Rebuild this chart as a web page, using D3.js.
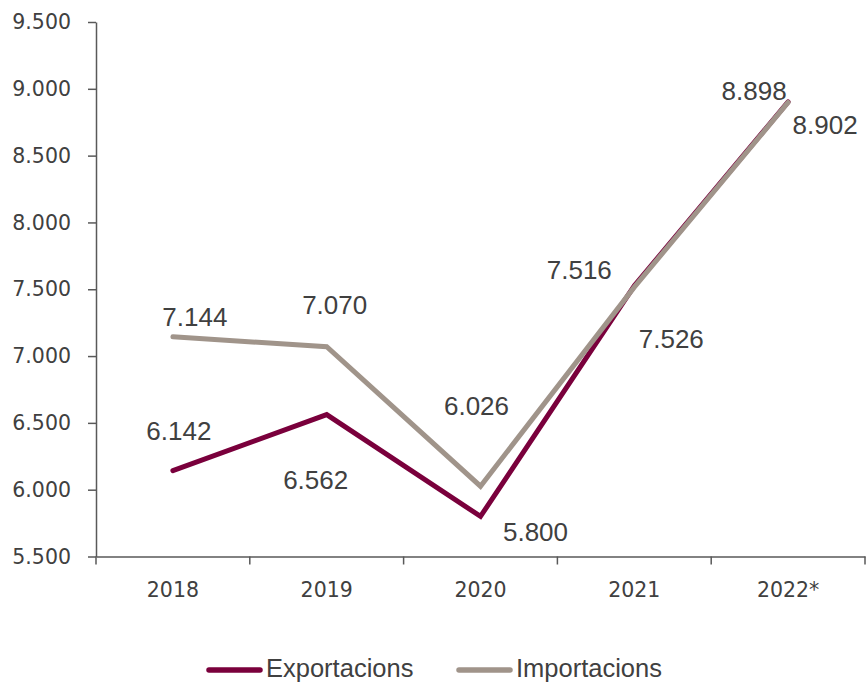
<!DOCTYPE html>
<html>
<head>
<meta charset="utf-8">
<script src="https://cdn.jsdelivr.net/npm/d3@7"></script>
<style>
  html, body { margin: 0; padding: 0; background: #fff; }
  svg { display: block; }
</style>
</head>
<body>
<svg id="chart" width="866" height="684"></svg>
<script>
const categories = ["2018", "2019", "2020", "2021", "2022*"];
const exportacions = [6142, 6562, 5800, 7526, 8902];
const importacions = [7144, 7070, 6026, 7516, 8898];
const yTicks = [5500, 6000, 6500, 7000, 7500, 8000, 8500, 9000, 9500];
const seriesNames = ["Exportacions", "Importacions"];
const seriesColors = ["#7a003c", "#a0948a"];
// label offsets (dx, dy) relative to the point, per series
const exportLabelOffsets = [[6, -40], [-11, 65], [55, 16], [37, 53], [37, 23]];
const importLabelOffsets = [[22, -20], [8, -42], [-4, -80], [-55, -17], [-34, -11]];

const svg = d3.select("#chart");

const x = d3.scaleBand().domain(categories).range([96, 865]).padding(0);
const y = d3.scaleLinear().domain([5500, 9500]).range([556.5, 22]);

const fmt = v => d3.format(",.0f")(v).replace(/,/g, ".");
const textColor = "#404040";
const axisColor = "#595959";

// Y axis
const yAxis = svg.append("g")
  .attr("transform", "translate(96,0)")
  .call(d3.axisLeft(y).tickValues(yTicks).tickSize(8).tickSizeOuter(0).tickPadding(17).tickFormat(fmt));
yAxis.select(".domain").attr("stroke", axisColor).attr("stroke-width", 1.5);
yAxis.selectAll(".tick line").attr("stroke", axisColor).attr("stroke-width", 1.5);
yAxis.selectAll(".tick text")
  .attr("fill", textColor)
  .style("font-family", "'DejaVu Sans', sans-serif")
  .style("font-size", "20.5px");

// X axis
const xAxis = svg.append("g")
  .attr("transform", "translate(0,556.5)")
  .call(d3.axisBottom(x).tickSize(0).tickPadding(26));
xAxis.select(".domain").attr("stroke", axisColor).attr("stroke-width", 1.5);
xAxis.selectAll(".tick text")
  .attr("fill", textColor)
  .style("font-family", "'DejaVu Sans', sans-serif")
  .style("font-size", "20.5px");
// boundary ticks between categories
const bounds = categories.map(c => x(c)).concat([x(categories[categories.length - 1]) + x.bandwidth()]);
xAxis.selectAll(".bound")
  .data(bounds)
  .enter().append("line")
  .attr("class", "bound")
  .attr("x1", d => d).attr("x2", d => d)
  .attr("y1", 0).attr("y2", 8)
  .attr("stroke", axisColor).attr("stroke-width", 1.5);

const cx = c => x(c) + x.bandwidth() / 2;
const line = d3.line().x(d => cx(d.c)).y(d => y(d.v));

const seriesData = [exportacions, importacions].map(arr => arr.map((v, i) => ({ c: categories[i], v })));
const offsets = [exportLabelOffsets, importLabelOffsets];

[0, 1].forEach(s => {
  svg.append("path")
    .datum(seriesData[s])
    .attr("fill", "none")
    .attr("stroke", seriesColors[s])
    .attr("stroke-width", 5)
    .attr("stroke-linejoin", "miter")
    .attr("stroke-linecap", "round")
    .attr("d", line);
});

[0, 1].forEach(s => {
  svg.append("g").selectAll("text")
    .data(seriesData[s])
    .enter().append("text")
    .attr("x", (d, i) => cx(d.c) + offsets[s][i][0])
    .attr("y", (d, i) => y(d.v) + offsets[s][i][1])
    .attr("text-anchor", "middle")
    .attr("dominant-baseline", "central")
    .attr("fill", textColor)
    .style("font-family", "'Liberation Sans', Arial, sans-serif")
    .style("font-size", "26px")
    .text(d => fmt(d.v));
});

// Legend
const legendItems = [
  { name: seriesNames[0], color: seriesColors[0], x1: 209, x2: 260, tx: 266 },
  { name: seriesNames[1], color: seriesColors[1], x1: 459, x2: 510, tx: 516 }
];
const lg = svg.append("g");
legendItems.forEach(it => {
  lg.append("line")
    .attr("x1", it.x1).attr("x2", it.x2)
    .attr("y1", 670).attr("y2", 670)
    .attr("stroke", it.color).attr("stroke-width", 5.5).attr("stroke-linecap", "round");
  lg.append("text")
    .attr("x", it.tx).attr("y", 668)
    .attr("dominant-baseline", "central")
    .attr("fill", textColor)
    .style("font-family", "'Liberation Sans', Arial, sans-serif")
    .style("font-size", "25.5px")
    .text(it.name);
});
</script>
</body>
</html>
